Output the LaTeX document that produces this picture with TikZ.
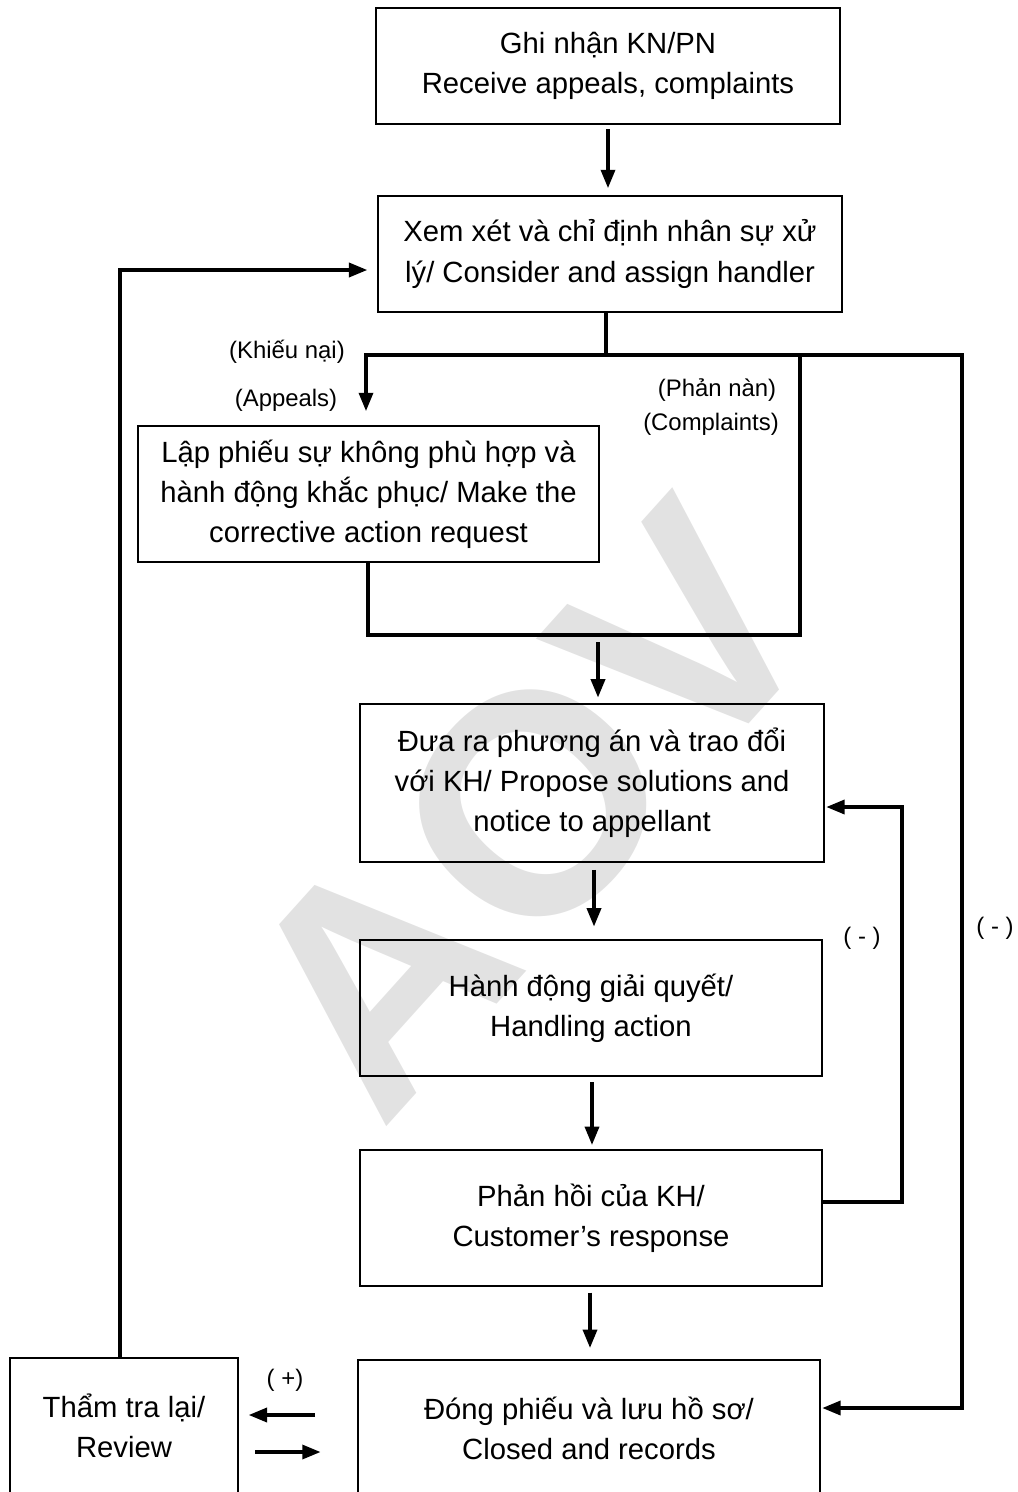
\documentclass[tikz,border=0pt]{standalone}
\usepackage{fontspec}
\setmainfont{Liberation Sans}
\usetikzlibrary{arrows.meta,calc}
\definecolor{wm}{RGB}{226,226,226}
\begin{document}
\begin{tikzpicture}[x=0.025cm,y=-0.025cm,
  box/.style={draw, line width=1.2pt, align=center, inner sep=0pt,
    font=\fontsize{20.8}{28.5}\selectfont},
  conn/.style={line width=2.3pt},
  arr/.style={conn, -{Triangle[length=13pt,width=10pt]}},
  lbl/.style={font=\fontsize{17}{20}\selectfont, inner sep=0pt}]
\useasboundingbox (0,0) rectangle (1018,1492);
% watermark
\node[rotate=48, anchor=base west, inner sep=0pt, text=wm,
  font=\fontsize{222}{222}\selectfont\bfseries] (wmk) at (381,1133) {AOV};
% boxes
\node[box, minimum width=11.6cm, minimum height=2.9cm] (b1) at (608,66)
  {Ghi nhận KN/PN\\Receive appeals, complaints};
\node[box, minimum width=11.6cm, minimum height=2.9cm] (b2) at (610,254)
  {Xem xét và chỉ định nhân sự xử\\lý/ Consider and assign handler};
\node[box, minimum width=11.525cm, minimum height=3.4cm] (b3) at (368.5,494)
  {Lập phiếu sự không phù hợp và\\hành động khắc phục/ Make the\\corrective action request};
\node[box, minimum width=11.6cm, minimum height=3.95cm] (b4) at (592,783)
  {Đưa ra phương án và trao đổi\\với KH/ Propose solutions and\\notice to appellant};
\node[box, minimum width=11.55cm, minimum height=3.4cm] (b5) at (591,1008)
  {Hành động giải quyết/\\Handling action};
\node[box, minimum width=11.55cm, minimum height=3.4cm] (b6) at (591,1218)
  {Phản hồi của KH/\\Customer’s response};
\node[box, minimum width=11.55cm, minimum height=3.4cm] (b7) at (589,1428)
  {Đóng phiếu và lưu hồ sơ/\\Closed and records};
\node[box, minimum width=5.7cm, minimum height=3.4cm] (b8) at (124,1426)
  {Thẩm tra lại/\\Review};
% junction coordinates
\coordinate (jtop) at (606,355);
\coordinate (jl) at (366,355);
\coordinate (jc) at (800,355);
\coordinate (jr) at (962,355);
\coordinate (mb) at (368,635);
\coordinate (mr) at (800,635);
\coordinate (mm) at (598,635);
\coordinate (fb) at (902,1202);
\coordinate (ft) at (902,807);
\coordinate (rb) at (962,1408);
\coordinate (rv) at (120,270);
% connectors
\draw[arr, shorten <=3pt, shorten >=5pt] (b1.south) -- (b1.south |- b2.north);
\draw[conn] (b2.south -| jtop) -- (jtop);
\draw[conn, line cap=rect] (jl) -- (jr);
\draw[arr, shorten >=10pt] (jl) -- (jl |- b3.north);
\draw[conn, line cap=rect] (jc) -- (mr);
\draw[conn, line cap=rect] (b3.south -| mb) -- (mb) -- (mr);
\draw[arr, shorten <=5pt, shorten >=4pt] (mm) -- (mm |- b4.north);
\draw[arr, shorten <=5pt, shorten >=9pt] (b4.south -| 594,0) -- (b5.north -| 594,0);
\draw[arr, shorten <=4pt, shorten >=3pt] (b5.south -| 592,0) -- (b6.north -| 592,0);
\draw[arr, shorten <=4pt, shorten >=8pt] (b6.south -| 590,0) -- (b7.north -| 590,0);
\draw[conn, line cap=rect] (b6.east |- fb) -- (fb) -- (ft);
\draw[arr, shorten >=1pt] (ft) -- (b4.east |- ft);
\draw[conn, line cap=rect] (jr) -- (rb);
\draw[arr, shorten >=1pt] (rb) -- (b7.east |- rb);
\draw[conn, line cap=rect] (b8.north -| rv) -- (rv);
\draw[arr, shorten >=7pt] (rv) -- (b2.west |- rv);
\coordinate (la) at (315,1415);
\coordinate (ra) at (255,1452);
\draw[arr, shorten >=7pt] (la) -- (b8.east |- la);
\draw[arr, shorten >=26pt] (ra) -- (b7.west |- ra);
% labels
\node[lbl] (l1) at (287,352) {(Khiếu nại)};
\node[lbl] (l2) at (286,400) {(Appeals)};
\node[lbl] (l3) at (717,390) {(Phản nàn)};
\node[lbl] (l4) at (711,424) {(Complaints)};
\node[lbl] (l5) at (862,938) {( - )};
\node[lbl] (l6) at (995,928) {( - )};
\node[lbl] (l7) at (285,1380) {( +)};
\end{tikzpicture}
\end{document}
